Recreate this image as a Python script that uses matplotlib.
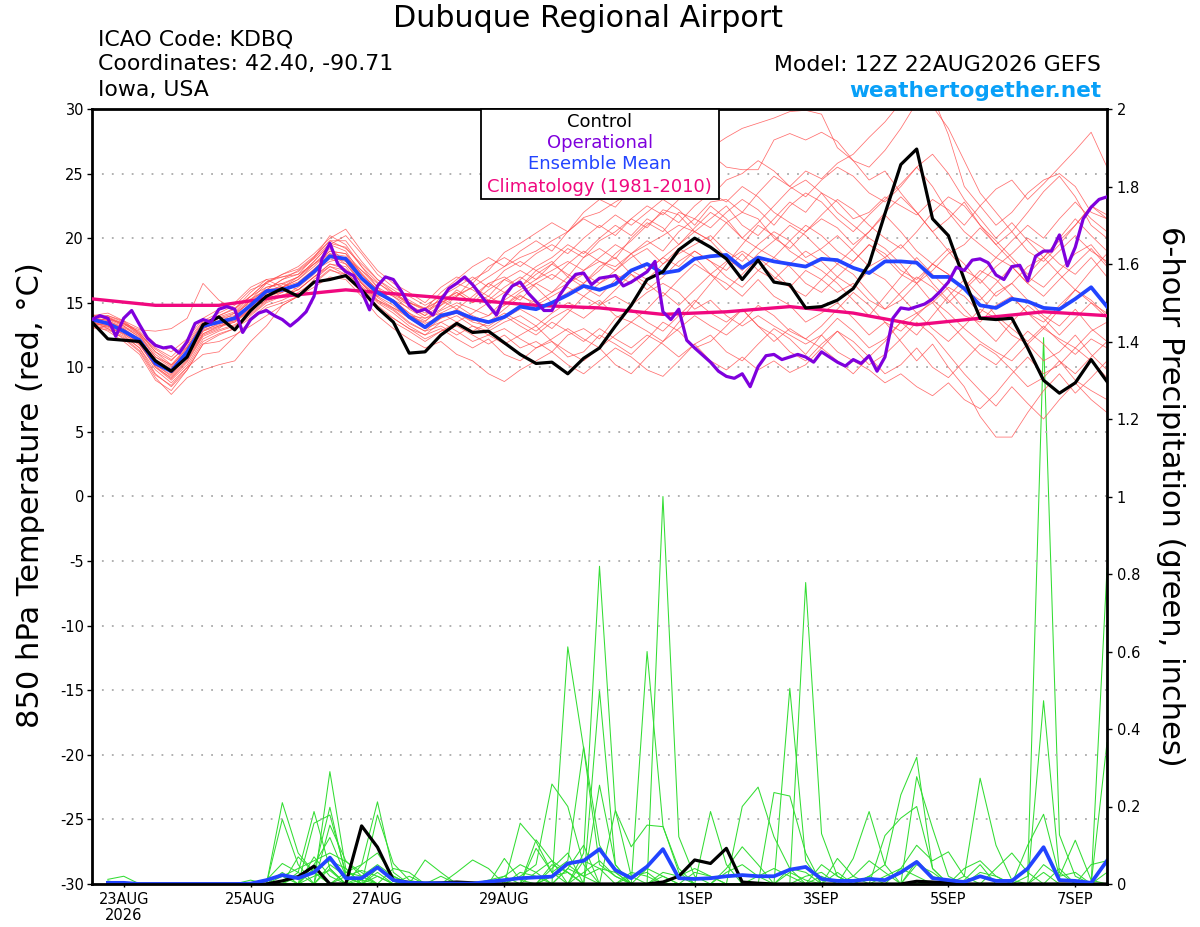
import numpy as np
import pandas as pd
import matplotlib
matplotlib.use("Agg")
import matplotlib.pyplot as plt
from matplotlib.patches import Rectangle
from matplotlib.ticker import FormatStrFormatter

plt.rcParams['font.family'] = ['DejaVu Sans']
plt.rcParams['axes.unicode_minus'] = False

# ---------------- data ----------------
run_start = "2026-08-22 12:00"

control_t = [13.5, 12.2, 12.1, 12.0, 10.5, 9.7, 10.8, 13.3, 13.9, 12.9,
             14.4, 15.5, 16.1, 15.5, 16.6, 16.8, 17.1, 16.0, 14.6, 13.5,
             11.1, 11.2, 12.5, 13.4, 12.7, 12.8, 11.9, 11.0, 10.3, 10.4,
             9.5, 10.7, 11.5, 13.2, 14.8, 16.8, 17.4, 19.1, 20.0, 19.3,
             18.4, 16.8, 18.3, 16.6, 16.4, 14.6, 14.7, 15.2, 16.1, 18.0,
             21.9, 25.7, 26.9, 21.5, 20.2, 16.8, 13.8, 13.7, 13.8, 11.5,
             9.0, 8.0, 8.8, 10.6, 8.9]

mean_t = [13.7, 13.4, 12.8, 12.1, 10.3, 9.7, 11.2, 13.2, 13.5, 13.8,
          14.8, 15.9, 16.0, 16.4, 17.4, 18.6, 18.4, 16.9, 15.8, 15.1,
          13.9, 13.1, 14.0, 14.3, 13.8, 13.5, 13.9, 14.7, 14.5, 15.0,
          15.6, 16.3, 16.0, 16.45, 17.5, 18.0, 17.3, 17.5, 18.4, 18.6,
          18.7, 17.7, 18.5, 18.2, 18.0, 17.8, 18.4, 18.3, 17.7, 17.3,
          18.2, 18.2, 18.1, 17.0, 17.0, 16.1, 14.8, 14.6, 15.3, 15.1,
          14.6, 14.5, 15.3, 16.2, 14.7]

# operational run is 3-hourly
operational_t = [13.7, 14.0, 13.8, 12.4, 13.8, 14.4, 13.3, 12.25, 11.7, 11.5,
                 11.6, 11.1, 12.0, 13.4, 13.7, 13.5, 14.5, 14.7, 14.5, 12.7,
                 13.7, 14.2, 14.4, 14.0, 13.7, 13.2, 13.7, 14.3, 15.5, 18.4,
                 19.6, 18.0, 17.4, 17.1, 15.9, 14.45, 16.3, 17.0, 16.8, 15.9,
                 14.8, 14.3, 14.5, 14.05, 15.2, 16.1, 16.5, 17.0, 16.4, 15.6,
                 14.8, 14.05, 15.5, 16.3, 16.6, 15.75, 15.1, 14.4, 14.4, 15.6,
                 16.5, 17.2, 17.3, 16.4, 16.9, 17.0, 17.1, 16.3, 16.6, 17.0,
                 17.4, 18.2, 14.3, 13.7, 14.5, 12.1, 11.5, 10.95, 10.4, 9.7,
                 9.3, 9.15, 9.5, 8.5, 10.05, 10.9, 11.0, 10.6, 10.8, 11.0,
                 10.8, 10.4, 11.2, 10.8, 10.4, 10.1, 10.6, 10.3, 10.9, 9.7,
                 10.8, 13.8, 14.6, 14.5, 14.7, 14.9, 15.3, 15.9, 16.6, 17.75,
                 17.5, 18.3, 18.4, 18.1, 17.15, 16.8, 17.8, 17.9, 16.7, 18.6,
                 19.0, 19.0, 20.25, 17.85, 19.3, 21.5, 22.4, 23.0, 23.2]

# climatology, daily at 12Z
clim_t = [15.3, 14.8, 14.8, 15.5, 16.0, 15.6, 15.2, 14.8, 14.6,
          14.1, 14.3, 14.7, 14.2, 13.3, 13.8, 14.3, 14.0]

members_t = [
    [13.8, 13.9, 13.2, 12.5, 11.0, 10.1, 11.5, 13.0, 13.8, 14.2, 15.0, 16.2, 16.5, 17.0, 18.2, 19.5, 19.0, 17.2, 16.0, 15.5, 14.8,
     14.2, 15.0, 15.6, 16.2, 17.0, 17.8, 18.5, 19.0, 19.8, 20.5, 21.6, 22.0, 22.8, 23.5, 24.0, 24.8, 25.5, 26.2, 27.0, 27.8,
     28.5, 28.9, 29.3, 29.8, 29.9, 29.6, 27.0, 26.0, 25.5, 26.8, 28.5, 30.5, 31.0, 28.0, 24.0, 22.5, 21.0, 22.0, 23.5, 24.5, 25.0, 24.0, 22.0, 21.5],
    [13.5, 13.6, 13.0, 12.0, 10.5, 9.5, 10.8, 12.8, 13.2, 13.5, 14.5, 15.2, 15.8, 16.5, 17.6, 18.8, 18.0, 16.5, 15.2, 14.6, 14.0,
     13.8, 14.5, 15.5, 16.8, 17.5, 18.9, 19.6, 20.4, 21.2, 20.5, 22.0, 23.0, 22.4, 23.8, 24.6, 25.2, 24.5, 25.8, 26.5, 25.5,
     25.3, 25.3, 27.6, 28.1, 27.6, 28.2, 27.5, 26.0, 24.5, 25.2, 23.5, 22.0, 20.5, 21.5, 22.8, 21.0, 19.5, 20.5, 22.0, 23.6, 24.8, 23.2, 21.0, 20.0],
    [13.2, 13.5, 12.8, 11.8, 10.0, 9.2, 10.5, 12.5, 13.0, 14.0, 15.2, 16.0, 16.8, 17.2, 18.5, 20.2, 19.5, 17.8, 16.2, 15.0, 14.0,
     13.5, 14.8, 16.0, 15.2, 16.5, 17.0, 16.2, 17.5, 18.2, 17.0, 18.5, 19.2, 18.4, 20.0, 21.2, 20.5, 22.0, 21.5, 22.8, 23.0,
     22.0, 23.5, 24.8, 24.0, 25.2, 24.6, 25.8, 26.5, 27.8, 29.0, 30.5, 31.0, 30.2, 28.5, 26.0, 23.5, 22.0, 20.5, 19.0, 18.2, 19.5, 21.0, 22.5, 21.8],
    [14.0, 14.2, 13.6, 12.6, 11.2, 10.5, 11.8, 13.5, 14.0, 14.5, 15.8, 16.8, 17.0, 17.2, 18.0, 19.0, 18.8, 17.5, 16.5, 15.8, 15.0,
     14.5, 15.2, 15.8, 15.0, 15.5, 16.8, 17.5, 16.8, 18.0, 19.2, 18.5, 19.8, 20.5, 21.5, 20.8, 22.2, 21.8, 20.5, 21.5, 22.5,
     21.0, 20.2, 21.5, 22.8, 22.0, 23.5, 22.8, 21.5, 22.0, 23.2, 22.5, 21.8, 23.0, 22.2, 21.0, 22.5, 23.8, 24.5, 23.0, 24.2, 25.5, 26.8, 28.2, 25.5],
    [13.4, 13.2, 12.5, 11.5, 9.5, 8.5, 9.8, 11.8, 12.5, 13.0, 14.0, 15.0, 15.5, 16.0, 17.0, 18.0, 17.8, 16.2, 15.0, 14.2, 13.2,
     12.5, 13.5, 14.0, 13.2, 12.8, 13.5, 14.0, 13.2, 14.2, 15.0, 14.5, 15.2, 14.0, 13.5, 14.5, 15.8, 14.8, 16.0, 17.2, 16.5,
     15.5, 16.8, 15.5, 14.8, 13.5, 14.2, 15.0, 13.8, 12.5, 13.5, 12.0, 10.5, 11.8, 10.0, 8.5, 6.2, 4.6, 4.6, 6.5, 8.2, 9.5, 8.0, 9.2, 10.5],
    [13.6, 13.0, 12.2, 11.2, 9.2, 7.9, 9.2, 9.8, 10.2, 10.5, 12.0, 13.2, 14.8, 15.5, 16.5, 17.5, 17.2, 16.0, 14.5, 13.5, 12.8,
     12.0, 12.8, 13.2, 12.5, 11.8, 12.5, 11.5, 12.0, 11.2, 12.5, 13.0, 12.2, 13.8, 14.5, 13.5, 12.8, 14.0, 15.2, 14.2, 13.5,
     14.5, 13.2, 12.0, 13.0, 12.2, 11.5, 12.8, 11.5, 10.2, 11.0, 12.2, 13.5, 12.5, 11.0, 9.5, 8.2, 7.0, 8.5, 7.2, 6.0, 7.5, 8.8, 7.5, 6.5],
    [13.3, 12.8, 12.0, 11.0, 9.0, 8.2, 9.8, 11.8, 12.0, 12.5, 13.2, 14.0, 14.8, 15.5, 16.2, 17.0, 16.8, 15.5, 14.0, 13.0, 12.2,
     11.5, 12.0, 11.0, 10.5, 9.5, 8.9, 9.8, 10.5, 11.2, 10.2, 9.5, 10.5, 11.5, 10.8, 9.8, 9.3, 10.5, 11.8, 12.5, 11.2,
     10.5, 11.8, 13.0, 12.2, 11.0, 12.5, 13.8, 12.8, 11.5, 12.2, 13.5, 14.2, 13.0, 12.0, 13.2, 14.5, 13.8, 12.5, 11.8, 10.5, 11.2, 12.5, 11.0, 9.8],
    [13.7, 13.5, 13.0, 12.2, 10.5, 9.8, 11.0, 13.0, 13.5, 13.8, 14.8, 16.0, 16.2, 16.8, 17.8, 19.0, 18.8, 17.0, 15.8, 15.2, 14.2,
     13.2, 14.2, 14.8, 14.0, 13.5, 14.5, 15.5, 15.0, 15.8, 16.5, 17.2, 16.5, 17.5, 18.5, 19.2, 18.0, 18.8, 19.5, 20.2, 19.0,
     18.2, 19.5, 20.5, 19.8, 18.5, 19.2, 20.2, 19.0, 17.8, 18.5, 19.5, 18.2, 16.5, 15.2, 14.0, 13.5, 14.8, 15.5, 14.2, 13.0, 14.5, 16.0, 15.2, 14.0],
    [13.9, 13.6, 13.1, 12.4, 10.8, 10.0, 11.5, 13.2, 13.8, 14.0, 15.2, 16.5, 16.0, 16.5, 17.5, 18.2, 18.5, 17.5, 16.2, 15.5, 14.5,
     13.8, 14.2, 13.5, 14.2, 15.0, 15.8, 15.2, 16.5, 17.2, 16.5, 17.5, 18.2, 17.8, 18.8, 19.5, 20.2, 21.0, 20.5, 19.8, 21.2,
     22.0, 21.5, 20.0, 19.2, 20.5, 21.5, 20.8, 19.5, 20.5, 22.0, 23.2, 22.0, 20.5, 19.0, 17.5, 16.8, 15.5, 16.5, 17.8, 18.5, 17.2, 16.0, 17.5, 18.8],
    [13.5, 13.2, 12.6, 11.8, 10.0, 9.0, 10.2, 12.2, 12.8, 13.2, 14.2, 15.2, 15.5, 16.2, 17.2, 18.5, 18.2, 16.5, 15.2, 14.5, 13.5,
     12.8, 13.8, 14.5, 13.8, 13.0, 13.8, 14.5, 13.8, 13.0, 14.2, 15.5, 14.8, 16.0, 17.2, 16.5, 15.5, 16.8, 18.0, 17.2, 16.0,
     17.2, 18.5, 17.5, 16.2, 15.5, 16.8, 18.0, 17.2, 15.8, 14.5, 15.2, 16.5, 15.0, 13.5, 12.2, 11.0, 10.2, 11.5, 12.8, 11.8, 10.5, 9.5, 10.8, 12.0],
    [13.6, 13.8, 13.3, 12.8, 11.5, 10.8, 12.0, 13.6, 14.2, 14.8, 16.0, 16.5, 17.2, 17.8, 18.8, 20.0, 20.7, 19.0, 17.5, 16.5, 15.8,
     15.0, 16.2, 17.0, 16.5, 17.8, 18.5, 17.8, 18.8, 19.5, 18.8, 20.0, 21.0, 20.2, 21.5, 22.5, 21.8, 23.0, 24.0, 23.2, 24.5,
     25.0, 26.0, 25.2, 24.0, 23.2, 24.5, 25.5, 24.8, 23.5, 22.8, 24.0, 25.5, 26.5, 25.0, 23.0, 21.5, 20.0, 21.2, 19.8, 18.5, 20.0, 21.5, 20.2, 19.0],
    [13.2, 13.0, 12.4, 11.5, 9.8, 8.8, 10.0, 11.0, 11.2, 12.4, 13.6, 14.6, 15.0, 15.5, 16.8, 17.8, 17.5, 16.0, 14.8, 13.8, 13.0,
     12.5, 13.0, 12.2, 11.5, 12.2, 11.0, 10.5, 11.5, 12.0, 10.8, 11.2, 12.5, 11.8, 11.0, 12.2, 13.5, 12.8, 11.5, 12.0, 13.2,
     14.5, 13.2, 12.5, 11.2, 10.5, 11.8, 12.8, 12.0, 10.8, 9.5, 10.2, 11.5, 10.0, 9.2, 10.5, 11.8, 11.0, 9.8, 8.5, 9.2, 10.5, 9.0, 8.2, 7.5],
    [14.1, 13.7, 13.4, 12.9, 12.8, 13.0, 13.8, 16.5, 15.2, 14.5, 15.5, 16.2, 16.5, 16.0, 17.0, 17.8, 17.2, 16.5, 15.5, 15.8, 14.8,
     14.0, 15.5, 16.5, 16.0, 15.2, 16.2, 17.0, 16.2, 15.0, 15.8, 16.5, 17.8, 18.5, 17.2, 16.0, 17.0, 18.2, 19.0, 18.2, 17.0,
     16.2, 17.5, 18.5, 17.8, 16.5, 15.8, 17.0, 18.2, 19.5, 18.5, 17.2, 16.5, 18.0, 19.2, 18.0, 16.5, 17.8, 18.8, 20.0, 19.2, 18.0, 17.2, 18.5, 17.0],
    [13.0, 13.2, 12.8, 12.0, 10.2, 9.4, 10.8, 12.6, 13.2, 13.6, 14.5, 15.5, 16.2, 16.8, 18.0, 19.2, 18.2, 16.8, 15.5, 14.8, 13.8,
     13.0, 13.5, 12.8, 12.0, 12.5, 11.8, 12.5, 13.2, 12.0, 11.2, 10.5, 11.5, 10.2, 9.5, 10.8, 12.0, 13.5, 15.0, 16.5, 18.0,
     19.5, 21.0, 20.2, 19.0, 18.2, 17.5, 16.5, 15.2, 14.0, 15.5, 17.0, 18.5, 17.2, 16.0, 14.5, 13.2, 12.0, 13.5, 14.8, 13.8, 12.5, 13.8, 15.0, 14.2],
    [13.8, 14.0, 13.5, 12.7, 11.2, 10.2, 11.2, 13.0, 13.5, 14.2, 15.3, 16.0, 16.8, 17.5, 18.5, 19.8, 19.2, 18.0, 16.8, 16.0, 15.2,
     14.5, 15.8, 16.8, 17.8, 18.5, 17.8, 19.0, 19.8, 19.0, 20.5, 21.5, 20.8, 21.8, 21.0, 22.0, 23.0, 22.2, 21.0, 22.5, 21.5,
     20.0, 21.2, 22.5, 23.8, 24.5, 23.5, 22.0, 21.0, 20.0, 19.2, 18.0, 16.5, 17.5, 18.8, 19.5, 20.8, 19.5, 18.2, 17.0, 16.2, 17.5, 18.8, 19.5, 18.0],
    [13.4, 13.3, 12.7, 11.9, 10.4, 9.6, 11.0, 12.8, 13.4, 13.6, 14.6, 15.6, 15.8, 16.4, 17.4, 18.4, 18.0, 16.6, 15.4, 14.6, 13.8,
     13.2, 13.8, 14.2, 13.6, 14.0, 14.8, 15.6, 14.8, 15.5, 16.2, 15.5, 16.5, 17.2, 16.5, 17.5, 18.5, 17.8, 19.0, 18.2, 17.5,
     18.8, 17.5, 16.8, 18.0, 19.0, 18.2, 17.0, 16.2, 17.5, 16.8, 15.5, 14.2, 15.0, 16.2, 15.5, 14.2, 15.8, 16.5, 15.2, 14.0, 13.2, 14.5, 13.0, 12.0],
    [13.6, 13.4, 12.9, 12.1, 10.6, 9.9, 11.2, 13.1, 13.6, 13.9, 14.9, 15.8, 16.2, 16.6, 17.6, 18.6, 18.5, 17.2, 16.0, 15.0, 14.0,
     13.4, 13.9, 14.2, 13.5, 13.2, 14.0, 13.2, 12.5, 13.5, 12.8, 12.0, 13.0, 12.2, 11.5, 12.5, 11.8, 10.8, 11.8, 10.5, 9.8,
     10.8, 9.8, 10.5, 9.6, 10.2, 11.5, 10.5, 9.5, 10.8, 12.0, 13.5, 12.5, 14.0, 15.5, 16.8, 15.5, 14.0, 13.0, 12.0, 13.2, 12.0, 11.0, 12.2, 11.5],
    [13.9, 14.0, 13.6, 13.0, 11.8, 11.2, 12.2, 13.8, 14.5, 15.0, 16.2, 16.8, 16.2, 17.0, 18.2, 19.5, 20.2, 18.8, 17.2, 16.2, 15.5,
     14.8, 15.5, 16.2, 17.0, 16.2, 17.5, 18.2, 17.5, 16.8, 18.0, 19.0, 18.2, 17.5, 18.8, 19.8, 19.0, 20.5, 21.5, 20.8, 22.0,
     23.0, 22.2, 21.0, 22.5, 23.5, 22.8, 21.5, 20.5, 21.8, 23.0, 24.2, 25.5, 24.0, 22.0, 20.5, 19.5, 18.5, 19.8, 21.0, 20.0, 21.5, 22.8, 21.5, 20.5],
    [13.1, 12.9, 12.3, 11.3, 9.4, 8.6, 10.0, 12.0, 12.6, 13.0, 13.8, 14.8, 15.2, 15.8, 16.6, 17.6, 17.0, 15.8, 14.5, 13.8, 13.0,
     12.2, 12.8, 13.5, 12.8, 13.5, 14.2, 13.5, 12.8, 13.8, 14.5, 13.8, 14.8, 15.5, 14.8, 15.8, 16.5, 15.8, 14.5, 15.2, 14.0,
     13.2, 14.0, 13.2, 12.5, 11.8, 12.5, 11.2, 10.5, 9.8, 8.8, 9.5, 8.5, 7.8, 8.8, 7.5, 6.8, 8.0, 9.5, 10.8, 9.5, 10.2, 11.5, 10.5, 9.2],
    [13.7, 13.7, 13.2, 12.3, 10.6, 9.7, 10.9, 12.9, 13.3, 13.7, 14.7, 15.7, 16.4, 17.0, 18.0, 18.8, 18.6, 17.3, 16.0, 15.2, 14.2,
     13.6, 14.4, 15.0, 14.5, 14.0, 15.2, 16.0, 16.8, 17.5, 18.2, 17.5, 18.5, 19.5, 18.8, 17.5, 18.5, 19.5, 20.5, 19.8, 18.5,
     17.5, 18.8, 19.8, 21.0, 20.2, 19.0, 18.0, 19.2, 20.5, 21.8, 20.5, 19.0, 18.0, 17.2, 16.0, 15.2, 16.5, 17.8, 16.5, 15.5, 16.8, 18.0, 19.2, 17.8],
    [13.5, 13.8, 13.4, 12.6, 11.4, 10.6, 11.6, 13.4, 13.9, 14.3, 15.5, 16.6, 17.2, 17.6, 18.6, 19.8, 19.8, 18.2, 16.8, 15.8, 15.0,
     14.6, 15.2, 14.5, 15.5, 16.5, 15.8, 16.8, 17.8, 18.5, 19.5, 18.8, 20.0, 21.0, 20.2, 21.5, 20.8, 19.5, 20.8, 22.0, 21.2,
     20.0, 19.2, 18.5, 19.8, 21.0, 20.2, 19.0, 18.2, 19.5, 18.8, 17.5, 16.8, 18.0, 17.2, 16.0, 17.2, 18.5, 17.8, 16.5, 17.8, 19.0, 20.2, 19.0, 18.2],
    [13.3, 13.1, 12.6, 11.7, 10.1, 9.1, 10.4, 12.4, 12.9, 13.3, 14.1, 15.1, 15.6, 16.0, 17.0, 18.0, 17.6, 16.3, 15.1, 14.4, 13.4,
     12.8, 13.2, 12.5, 13.2, 12.5, 13.0, 12.2, 11.5, 12.2, 13.0, 12.2, 11.5, 12.5, 13.5, 12.8, 12.0, 13.0, 14.0, 13.2, 12.5,
     13.5, 14.8, 14.0, 12.8, 12.2, 13.2, 14.5, 15.8, 14.8, 13.5, 12.8, 14.0, 15.2, 14.2, 13.0, 12.0, 11.2, 10.5, 11.8, 13.0, 12.2, 11.5, 12.8, 13.5],
    [13.8, 13.5, 12.9, 12.0, 10.2, 9.3, 10.6, 12.6, 13.1, 13.5, 14.4, 15.4, 15.9, 16.4, 17.4, 18.6, 18.4, 16.8, 15.6, 15.2, 14.6,
     14.0, 14.8, 15.5, 16.2, 15.5, 14.8, 15.8, 16.5, 15.8, 17.0, 16.2, 15.5, 16.8, 17.5, 16.8, 18.0, 19.2, 18.5, 17.2, 18.2,
     19.0, 18.2, 17.0, 16.2, 17.5, 16.8, 15.8, 16.5, 15.2, 14.5, 15.8, 17.0, 16.2, 15.0, 16.2, 17.5, 16.8, 15.5, 14.2, 13.5, 14.8, 16.0, 15.0, 13.8],
    [14.0, 13.9, 13.4, 12.5, 10.8, 10.2, 11.6, 13.4, 14.0, 14.6, 15.5, 16.6, 17.0, 17.4, 18.4, 19.6, 19.3, 17.8, 16.6, 15.6, 15.0,
     14.4, 15.0, 15.8, 15.0, 16.0, 16.8, 16.2, 17.2, 18.0, 17.2, 16.5, 17.5, 18.8, 19.8, 21.0, 22.0, 21.2, 22.5, 23.5, 22.8,
     24.0, 23.2, 22.0, 21.2, 20.5, 21.8, 23.0, 22.2, 21.0, 20.0, 19.2, 20.5, 22.0, 23.2, 22.5, 21.0, 19.8, 18.5, 17.2, 18.5, 19.8, 21.0, 22.5, 21.5],
]

# 6-hour precipitation (inches), values for forecast steps 1..64 (f006..f384)
control_p = [0, 0, 0, 0, 0, 0, 0, 0, 0, 0,
             0, 0.008, 0.019, 0.046, 0, 0, 0.15, 0.095, 0.01, 0.004,
             0.002, 0.003, 0.005, 0.003, 0.001, 0, 0, 0, 0, 0,
             0, 0, 0, 0, 0, 0.005, 0.02, 0.062, 0.053, 0.092,
             0.005, 0.002, 0, 0, 0, 0, 0, 0, 0, 0,
             0, 0.007, 0.005, 0.003, 0, 0, 0, 0, 0, 0,
             0, 0, 0, 0]

mean_p = [0.003, 0.003, 0, 0, 0, 0, 0, 0, 0, 0.001,
          0.01, 0.023, 0.015, 0.03, 0.068, 0.015, 0.015, 0.043, 0.01, 0.003,
          0.002, 0.002, 0.001, 0.001, 0.006, 0.01, 0.015, 0.017, 0.019, 0.053,
          0.06, 0.09, 0.036, 0.015, 0.045, 0.09, 0.015, 0.013, 0.015, 0.02,
          0.023, 0.02, 0.02, 0.037, 0.044, 0.013, 0.008, 0.008, 0.013, 0.01,
          0.03, 0.057, 0.015, 0.01, 0.005, 0.02, 0.008, 0.008, 0.04, 0.095,
          0.01, 0.008, 0.003, 0.06]

# ensemble members' non-zero 6-hour amounts keyed by forecast step
members_p = [
    {1: 0.012, 2: 0.02, 12: 0.21, 13: 0.08, 14: 0.03, 17: 0.01, 27: 0.02, 28: 0.05, 29: 0.258, 30: 0.2, 31: 0.05, 36: 0.02, 44: 0.03, 45: 0.01},
    {12: 0.167, 13: 0.05, 15: 0.29, 16: 0.04, 18: 0.02, 30: 0.612, 31: 0.35, 32: 0.05, 33: 0.02, 49: 0.02, 50: 0.05, 51: 0.23, 52: 0.327, 53: 0.04},
    {11: 0.01, 12: 0.053, 13: 0.03, 14: 0.187, 15: 0.04, 17: 0.05, 18: 0.212, 19: 0.03, 31: 0.08, 32: 0.82, 33: 0.19, 34: 0.02, 55: 0.02, 56: 0.273, 57: 0.1, 58: 0.01},
    {13: 0.07, 14: 0.03, 15: 0.198, 16: 0.02, 18: 0.178, 19: 0.053, 20: 0.01, 26: 0.066, 27: 0.01, 32: 0.499, 33: 0.05, 45: 0.778, 46: 0.13, 47: 0.02, 59: 0.02, 60: 1.41, 61: 0.127, 62: 0.02},
    {14: 0.157, 15: 0.178, 16: 0.03, 17: 0.02, 21: 0.062, 22: 0.03, 27: 0.157, 28: 0.109, 29: 0.03, 35: 0.6, 36: 0.15, 37: 0.03, 44: 0.505, 45: 0.06, 48: 0.066, 49: 0.187, 50: 0.05},
    {15: 0.152, 16: 0.06, 17: 0.02, 20: 0.02, 28: 0.114, 29: 0.06, 36: 1.0, 37: 0.122, 38: 0.02, 41: 0.2, 42: 0.25, 43: 0.122, 44: 0.04, 60: 0.473, 61: 0.03, 64: 0.815},
    {12: 0.02, 13: 0.04, 14: 0.06, 15: 0.08, 16: 0.058, 17: 0.03, 28: 0.092, 29: 0.03, 30: 0.06, 31: 0.354, 32: 0.1, 33: 0.03, 39: 0.187, 40: 0.05, 52: 0.277, 53: 0.144, 54: 0.02},
    {16: 0.03, 17: 0.05, 18: 0.08, 19: 0.02, 23: 0.03, 24: 0.062, 25: 0.04, 29: 0.04, 30: 0.08, 32: 0.255, 33: 0.05, 43: 0.236, 44: 0.227, 45: 0.08, 64: 0.365},
    {12: 0.03, 14: 0.05, 15: 0.12, 16: 0.02, 30: 0.04, 31: 0.1, 33: 0.19, 34: 0.096, 35: 0.152, 36: 0.148, 37: 0.04, 47: 0.066, 48: 0.02, 50: 0.125, 51: 0.17, 52: 0.2, 53: 0.04},
    {17: 0.02, 18: 0.05, 19: 0.02, 29: 0.02, 30: 0.03, 34: 0.02, 35: 0.03, 40: 0.04, 41: 0.096, 42: 0.05, 46: 0.05, 47: 0.02, 55: 0.01, 56: 0.05, 59: 0.1, 60: 0.18, 61: 0.02, 62: 0.113, 63: 0.01},
    {14: 0.04, 15: 0.06, 16: 0.04, 26: 0.02, 27: 0.05, 28: 0.03, 31: 0.06, 32: 0.04, 38: 0.03, 39: 0.02, 44: 0.04, 45: 0.03, 51: 0.04, 52: 0.1, 53: 0.06, 54: 0.083, 55: 0.02},
    {13: 0.02, 14: 0.03, 18: 0.03, 22: 0.02, 30: 0.04, 31: 0.02, 32: 0.04, 33: 0.03, 36: 0.03, 37: 0.02, 48: 0.02, 49: 0.06, 50: 0.03, 57: 0.04, 58: 0.08, 59: 0.03, 63: 0.05, 64: 0.06},
    {15: 0.05, 16: 0.02, 29: 0.05, 30: 0.03, 40: 0.03, 41: 0.05, 42: 0.02, 47: 0.03, 52: 0.05, 53: 0.03, 60: 0.05, 61: 0.02, 62: 0.03},
    {1: 0.008, 11: 0.01, 12: 0.02, 14: 0.07, 15: 0.02, 19: 0.04, 20: 0.03, 27: 0.03, 28: 0.02, 34: 0.03, 35: 0.02, 45: 0.02, 46: 0.03, 56: 0.03, 57: 0.02, 64: 0.03},
    {16: 0.02, 17: 0.035, 18: 0.02, 25: 0.01, 26: 0.02, 31: 0.03, 32: 0.06, 33: 0.02, 42: 0.02, 43: 0.04, 44: 0.02, 50: 0.02, 51: 0.04, 52: 0.02, 60: 0.03},
    {10: 0.01, 13: 0.03, 15: 0.04, 29: 0.02, 30: 0.05, 31: 0.02, 37: 0.02, 38: 0.04, 39: 0.02, 49: 0.02, 52: 0.06, 53: 0.02},
    {14: 0.02, 15: 0.035, 18: 0.04, 19: 0.02, 28: 0.03, 29: 0.06, 30: 0.03, 35: 0.04, 36: 0.02, 46: 0.02, 55: 0.04, 56: 0.06, 57: 0.02, 61: 0.04},
]

date_ticks = ["2026-08-23", "2026-08-25", "2026-08-27", "2026-08-29",
              "2026-09-01", "2026-09-03", "2026-09-05", "2026-09-07"]
date_labels = ["23AUG\n2026", "25AUG", "27AUG", "29AUG", "1SEP", "3SEP", "5SEP", "7SEP"]

temp_ticks = list(range(-30, 31, 5))
precip_ticks = [0, 0.2, 0.4, 0.6, 0.8, 1.0, 1.2, 1.4, 1.6, 1.8, 2.0]

# ---------------- figure ----------------
t6 = pd.date_range(run_start, periods=len(control_t), freq="6h")
t3 = pd.date_range(run_start, periods=len(operational_t), freq="3h")
tday = t6[::4][:len(clim_t)]
tp = t6[1:1 + len(control_p)]

W, H = 1200, 927
def fx(px):
    return px / W
def fy(py):
    return 1 - py / H

fig = plt.figure(figsize=(12, 9.27), dpi=100)
ax = fig.add_axes([fx(92), fy(884), fx(1107) - fx(92), fy(109) - fy(884)])
ax2 = ax.twinx()
ax.set_zorder(ax2.get_zorder() + 1)
ax.patch.set_visible(False)

# precipitation (right axis)
for d in members_p:
    vals = np.zeros(len(tp))
    for k, v in d.items():
        vals[k - 1] = v
    ax2.plot(tp, vals, color='#33dd33', lw=0.75, zorder=2)
ax2.plot(tp, control_p, color='black', lw=2.3, zorder=3)
ax2.plot(tp, mean_p, color='#2244ff', lw=2.7, zorder=4)
ax2.set_ylim(0, 2)
ax2.set_yticks(precip_ticks)
ax2.yaxis.set_major_formatter(FormatStrFormatter('%g'))
for s in ax2.spines.values():
    s.set_visible(False)

# grid
for t in temp_ticks[1:-1]:
    ax.axhline(t, color='#aaaaaa', lw=1.3, ls=(0, (1, 4.5)), zorder=1)

# temperature (left axis)
for m in members_t:
    ax.plot(t6[:len(m)], m, color='#ff4a4a', lw=0.55, alpha=0.8, zorder=2)
ax.plot(tday, clim_t, color='#f0087f', lw=2.4, zorder=3)
ax.plot(t6, mean_t, color='#2244ff', lw=2.7, zorder=4)
ax.plot(t6, control_t, color='black', lw=2.3, zorder=5)
ax.plot(t3, operational_t, color='#7f00dd', lw=2.3, zorder=6)

ax.set_ylim(-30, 30)
ax.set_yticks(temp_ticks)
ax.set_xlim(t6[0], t6[-1])
ax.set_xticks(pd.to_datetime(date_ticks))
ax.set_xticklabels(date_labels, linespacing=1.05)

for s in ax.spines.values():
    s.set_linewidth(2.0)
ax.tick_params(axis='y', direction='out', length=3.6, width=1, pad=2.2, labelsize=10.5)
ax.tick_params(axis='x', direction='out', length=2.5, width=1, pad=3.2, labelsize=10.5)
ax2.tick_params(axis='y', direction='out', length=3.6, width=1, pad=3.4, labelsize=10.5)

# legend box
rect = Rectangle((fx(480.7), fy(199)), fx(719) - fx(480.7), fy(109) - fy(199),
                 transform=fig.transFigure, facecolor='white', edgecolor='black',
                 lw=1.3, zorder=10)
fig.add_artist(rect)
leg_items = [("Control", 'black', 126.7), ("Operational", '#7f00dd', 147.7),
             ("Ensemble Mean", '#2244ff', 169.3), ("Climatology (1981-2010)", '#f0087f', 191.7)]
for txt, col, yb in leg_items:
    fig.text(fx(599.8), fy(yb), txt, color=col, fontsize=13, ha='center', va='baseline', zorder=11)

# header texts
fig.text(fx(588), fy(27), "Dubuque Regional Airport", fontsize=21.7, ha='center', va='baseline')
fig.text(fx(98), fy(45), "ICAO Code: KDBQ", fontsize=15.8, ha='left', va='baseline')
fig.text(fx(98), fy(70.5), "Coordinates: 42.40, -90.71", fontsize=15.8, ha='left', va='baseline')
fig.text(fx(98), fy(96.5), "Iowa, USA", fontsize=15.8, ha='left', va='baseline')
fig.text(fx(1101), fy(70.7), "Model: 12Z 22AUG2026 GEFS", fontsize=15.8, ha='right', va='baseline')
fig.text(fx(1101), fy(96.7), "weathertogether.net", fontsize=15.6, fontweight='bold',
         color='#08a0f8', ha='right', va='baseline')

# axis titles
fig.text(fx(31), fy(495), "850 hPa Temperature (red, °C)", rotation=90, fontsize=22,
         ha='center', va='center')
fig.text(fx(1171), fy(496), "6-hour Precipitation (green, inches)", rotation=270, fontsize=22,
         ha='center', va='center')

fig.savefig("out.png", dpi=100)
